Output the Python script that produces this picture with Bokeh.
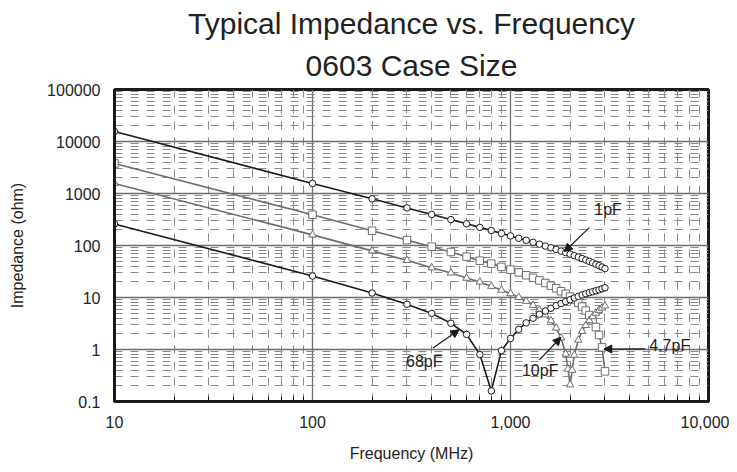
from bokeh.plotting import figure
from bokeh.models import FixedTicker, Range1d, Title, Arrow, NormalHead, Label
from bokeh.embed import file_html
from bokeh.resources import INLINE

# ---------------- data ----------------
freq_mhz = [10, 100, 200, 300, 400, 500, 600, 700, 800, 900, 1000,
            1100, 1200, 1300, 1400, 1500, 1600, 1700, 1800, 1900, 2000,
            2100, 2200, 2300, 2400, 2500, 2600, 2700, 2800, 2900, 3000]

z_1pf = [15600, 1560, 790, 528, 395, 315, 262, 223, 194, 171, 153,
         138, 126, 115, 106, 97.6, 90.4, 84.0, 78.2, 73.0, 68.2,
         63.9, 59.9, 56.2, 52.7, 49.5, 46.5, 43.6, 40.9, 38.5, 36.0]

z_4p7pf = [3780, 390, 192, 127, 95, 75, 61, 51, 44.8, 38.8, 34.3,
           30.4, 26.8, 23.9, 21.3, 19.0, 16.9, 15.0, 13.2, 11.8, 10.4,
           9.1, 7.9, 6.7, 5.6, 4.6, 3.6, 2.7, 1.9, 1.1, 0.38]

freq_10pf = [10, 100, 200, 300, 400, 500, 600, 700, 800, 900, 1000,
             1100, 1200, 1300, 1400, 1500, 1600, 1700, 1800, 1900, 1950, 2000,
             2050, 2100, 2200, 2300, 2400, 2500, 2600, 2700, 2800, 2900, 3000]

z_10pf = [1560, 160, 78.8, 51.8, 37.5, 29.7, 23.6, 19.9, 16.5, 13.9, 11.9,
          10.1, 8.5, 7.1, 5.8, 4.64, 3.58, 2.6, 1.68, 0.82, 0.42, 0.21,
          0.40, 0.78, 1.52, 2.23, 2.92, 3.6, 4.3, 5.0, 5.7, 6.3, 6.9]

z_68pf = [260, 25.9, 12.2, 7.4, 4.95, 3.2, 1.95, 0.8, 0.16, 0.95, 1.63,
          2.45, 3.25, 4.0, 4.75, 5.5, 6.2, 6.95, 7.65, 8.35, 9.05,
          9.8, 10.5, 11.2, 11.8, 12.4, 12.95, 13.5, 14.0, 14.7, 15.4]

x_ticks = [10, 100, 1000, 10000]
x_tick_labels = ["10", "100", "1,000", "10,000"]
y_ticks = [0.1, 1, 10, 100, 1000, 10000, 100000]
y_tick_labels = ["0.1", "1", "10", "100", "1000", "10000", "100000"]

# annotation texts and arrow positions (data coordinates)
ann_text = ["1pF", "4.7pF", "10pF", "68pF"]
ann_x = [2650, 5020, 1412, 367]
ann_y = [488, 1.17, 0.40, 0.587]
ann_align = ["left", "left", "center", "center"]
arr_x0 = [2500, 4800, 1400, 406]
arr_y0 = [221, 1.03, 0.63, 1.07]
arr_x1 = [1870, 2960, 1800, 550]
arr_y1 = [76, 1.02, 1.72, 2.4]

FONT = "Liberation Sans"
BLACK = "#1a1a1a"
GREY = "#6e6e6e"

x_minor = [m * d for d in (10, 100, 1000) for m in range(2, 10)]
y_minor = [m * d for d in (0.1, 1, 10, 100, 1000, 10000) for m in range(2, 10)]

p = figure(width=729, height=464, x_axis_type="log", y_axis_type="log",
           x_range=Range1d(10, 10000), y_range=Range1d(0.1, 100000),
           output_backend="svg", toolbar_location=None, title=None,
           min_border_left=114, min_border_right=21,
           min_border_top=89, min_border_bottom=63)

p.add_layout(Title(text="0603 Case Size", align="center", text_font=FONT,
                   text_font_size="30px", text_font_style="normal",
                   text_color="#222222", standoff=15), "above")
p.add_layout(Title(text="Typical Impedance vs. Frequency", align="center",
                   text_font=FONT, text_font_size="30px",
                   text_font_style="normal", text_color="#222222",
                   standoff=0), "above")

p.background_fill_color = "white"
p.border_fill_color = "white"
p.outline_line_color = BLACK
p.outline_line_width = 3

# axes
p.xaxis.ticker = FixedTicker(ticks=x_ticks, minor_ticks=x_minor)
p.yaxis.ticker = FixedTicker(ticks=y_ticks, minor_ticks=y_minor)
p.xaxis.major_label_overrides = dict(zip(x_ticks, x_tick_labels))
p.yaxis.major_label_overrides = dict(zip(y_ticks, y_tick_labels))
for ax in (p.xaxis, p.yaxis):
    ax.axis_line_color = BLACK
    ax.axis_line_width = 3
    ax.major_tick_out = 0
    ax.major_tick_in = 0
    ax.major_label_text_font = FONT
    ax.major_label_text_font_size = "16px"
    ax.major_label_text_color = "#222222"
    ax.axis_label_text_font = FONT
    ax.axis_label_text_font_size = "16px"
    ax.axis_label_text_font_style = "normal"
    ax.axis_label_text_color = "#222222"
p.xaxis.minor_tick_in = 5
p.xaxis.minor_tick_out = 0
p.xaxis.minor_tick_line_color = BLACK
p.yaxis.minor_tick_in = 0
p.yaxis.minor_tick_out = 0
p.xaxis.major_label_standoff = 14
p.yaxis.major_label_standoff = 14
p.xaxis.axis_label = "Frequency (MHz)"
p.yaxis.axis_label = "Impedance (ohm)"
p.xaxis.axis_label_standoff = 14
p.yaxis.axis_label_standoff = 18

# grid
for g in (p.xgrid, p.ygrid):
    g.grid_line_color = "#6e6e6e"
    g.grid_line_width = 1.3
    g.minor_grid_line_color = "#8a8a8a"
    g.minor_grid_line_width = 1
    g.minor_grid_line_dash = "8 8"

# series
p.line(freq_mhz, z_1pf, line_color=BLACK, line_width=1.6)
p.scatter(freq_mhz, z_1pf, marker="circle", size=6.5, fill_color="white",
          line_color=BLACK, line_width=1)

p.line(freq_mhz, z_4p7pf, line_color=GREY, line_width=1.6)
p.scatter(freq_mhz, z_4p7pf, marker="square", size=7.5, fill_color="white",
          line_color=GREY, line_width=1)

p.line(freq_10pf, z_10pf, line_color=GREY, line_width=1.6)
p.scatter(freq_10pf, z_10pf, marker="triangle", size=7.5, fill_color="white",
          line_color=GREY, line_width=1)

p.line(freq_mhz, z_68pf, line_color=BLACK, line_width=1.6)
p.scatter(freq_mhz, z_68pf, marker="circle", size=6.5, fill_color="white",
          line_color=BLACK, line_width=1)

# annotations
for t, x, y, al, x0, y0, x1, y1 in zip(ann_text, ann_x, ann_y, ann_align,
                                       arr_x0, arr_y0, arr_x1, arr_y1):
    p.add_layout(Label(x=x, y=y, text=t, text_align=al,
                       text_baseline="middle", text_font=FONT,
                       text_font_size="16px", text_color="#222222"))
    p.add_layout(Arrow(x_start=x0, y_start=y0, x_end=x1, y_end=y1,
                       line_color=BLACK, line_width=1.2,
                       end=NormalHead(size=8, fill_color=BLACK,
                                      line_color=BLACK)))

open("out.html", "w").write(file_html(p, INLINE))
